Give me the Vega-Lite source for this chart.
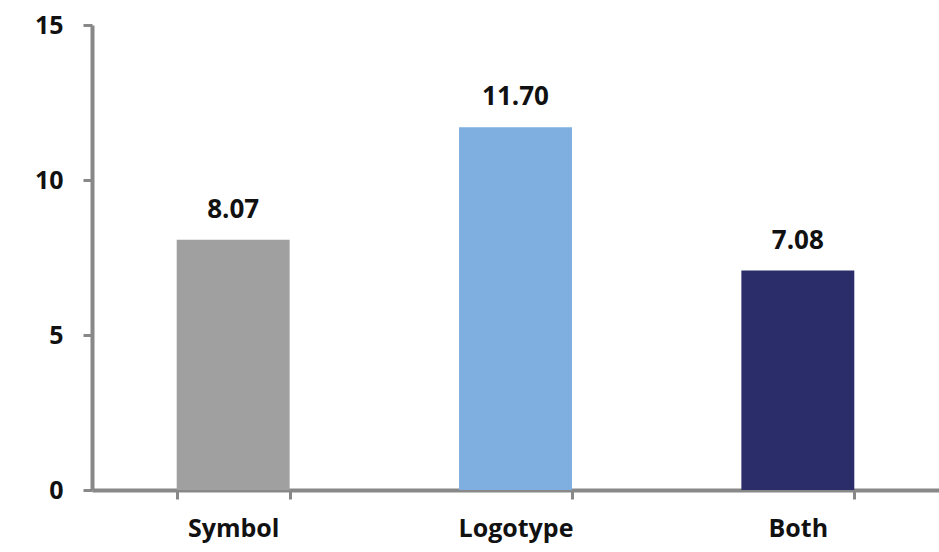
{
  "$schema": "https://vega.github.io/schema/vega-lite/v6.json",
  "width": 847,
  "height": 465,
  "autosize": {"type": "none"},
  "padding": {"left": 92, "top": 25, "right": 0, "bottom": 62},
  "background": "white",
  "config": {"view": {"stroke": null}},
  "data": {"values": [
    {"category": "Symbol", "value": 8.07, "label": "8.07"},
    {"category": "Logotype", "value": 11.70, "label": "11.70"},
    {"category": "Both", "value": 7.08, "label": "7.08"}
  ]},
  "encoding": {
    "x": {
      "field": "category", "type": "nominal", "sort": null,
      "scale": {"paddingInner": 0.6, "paddingOuter": 0.3},
      "axis": {
        "title": null, "labelAngle": 0, "domainColor": "#888888", "domainWidth": 4,
        "tickColor": "#888888", "tickWidth": 3, "tickSize": 9, "tickBand": "extent",
        "labelFont": "Open Sans", "labelFontWeight": "bold", "labelFontSize": 25,
        "labelColor": "#111111", "labelPadding": 17
      }
    },
    "y": {
      "field": "value", "type": "quantitative",
      "scale": {"domain": [0, 15], "nice": false},
      "axis": {
        "title": null, "values": [0, 5, 10, 15], "grid": false,
        "domainColor": "#888888", "domainWidth": 4,
        "tickColor": "#888888", "tickWidth": 3, "tickSize": 9,
        "labelFont": "Open Sans", "labelFontWeight": "bold", "labelFontSize": 25,
        "labelColor": "#111111", "labelPadding": 20
      }
    }
  },
  "layer": [
    {
      "mark": {"type": "bar"},
      "encoding": {
        "color": {
          "field": "category", "type": "nominal",
          "scale": {"domain": ["Symbol", "Logotype", "Both"], "range": ["#a0a0a0", "#7eafe0", "#2a2d6a"]},
          "legend": null
        }
      }
    },
    {
      "mark": {"type": "text", "baseline": "alphabetic", "dy": -22, "font": "Open Sans", "fontWeight": "bold", "fontSize": 26, "color": "#111111"},
      "encoding": {"text": {"field": "label"}}
    }
  ]
}
